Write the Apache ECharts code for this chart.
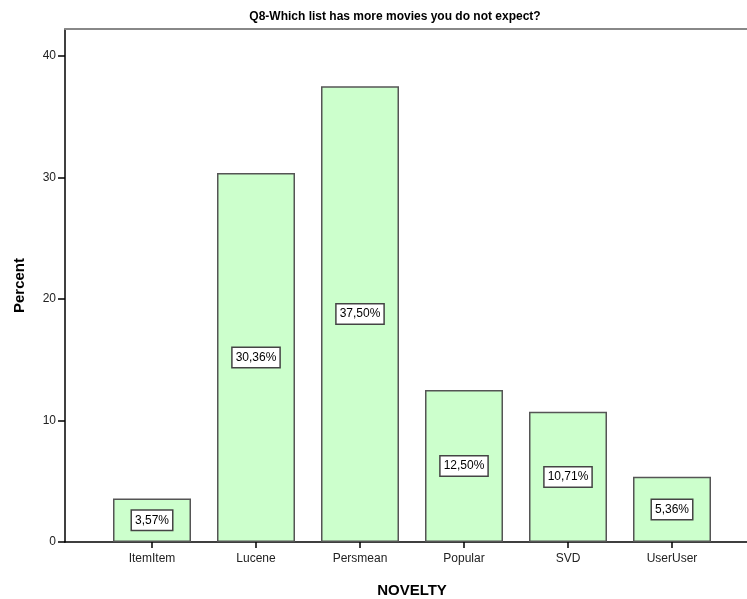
<!DOCTYPE html>
<html lang="en">
<head>
    <meta charset="UTF-8">
    <title>Q8 Novelty</title>
    <script src="https://cdn.jsdelivr.net/npm/echarts@6/dist/echarts.min.js"></script>
    <style type="text/css">
        html, body {
            margin: 0;
            padding: 0;
            background: #fff;
        }
        #chart {
            width: 747px;
            height: 599px;
        }
    </style>
</head>
<body>
<div id="chart"></div>
<script type="text/javascript">
    // categories + percentages
    var categories = ['ItemItem', 'Lucene', 'Persmean', 'Popular', 'SVD', 'UserUser'];
    var percents = [3.57, 30.36, 37.50, 12.50, 10.71, 5.36];
    var yTicks = [0, 10, 20, 30, 40];

    var font = 'Arial, "Liberation Sans", sans-serif';

    var myChart = echarts.init(document.getElementById('chart'));
    var option = {
        animation: false,
        title: {
            text: 'Q8-Which list has more movies you do not expect?',
            left: 390,
            textAlign: 'center',
            top: 6,
            textStyle: {fontFamily: font, fontSize: 12, fontWeight: 'bold', color: '#000'}
        },
        grid: [
            // bars
            {left: 100, width: 624, top: 29, bottom: 57, outerBoundsMode: 'none', containLabel: false},
            // frame lines
            {left: 65, right: 0, top: 29, bottom: 57, outerBoundsMode: 'none', containLabel: false}
        ],
        xAxis: [
            {
                type: 'category',
                gridIndex: 0,
                data: categories,
                name: 'NOVELTY',
                nameLocation: 'middle',
                nameGap: 41,
                nameTextStyle: {fontFamily: font, fontSize: 15, fontWeight: 'bold', color: '#000'},
                axisLine: {show: false},
                axisTick: {show: true, alignWithLabel: true, length: 6, lineStyle: {color: '#000', width: 1.5}},
                axisLabel: {fontFamily: font, fontSize: 12, color: '#222', margin: 11},
                splitLine: {show: false}
            },
            {
                type: 'value',
                gridIndex: 1,
                min: 0,
                max: 1,
                position: 'bottom',
                axisLine: {show: true, lineStyle: {color: '#000', width: 1.5}},
                axisTick: {show: false},
                axisLabel: {show: false},
                splitLine: {show: false}
            },
            {
                type: 'value',
                gridIndex: 1,
                min: 0,
                max: 1,
                position: 'top',
                axisLine: {show: true, lineStyle: {color: '#888', width: 2}},
                axisTick: {show: false},
                axisLabel: {show: false},
                splitLine: {show: false}
            }
        ],
        yAxis: [
            {
                type: 'value',
                gridIndex: 0,
                min: 0,
                max: 42.2,
                interval: 10,
                offset: 35,
                name: 'Percent',
                nameLocation: 'middle',
                nameRotate: 90,
                nameGap: 38,
                nameTextStyle: {fontFamily: font, fontSize: 15, fontWeight: 'bold', color: '#000'},
                axisLine: {show: true, lineStyle: {color: '#000', width: 1.5}},
                axisTick: {show: true, inside: false, length: 7, customValues: yTicks, lineStyle: {color: '#000', width: 1.5}},
                axisLabel: {fontFamily: font, fontSize: 12, color: '#222', margin: 9, customValues: yTicks},
                splitLine: {show: false}
            },
            {
                type: 'value',
                gridIndex: 1,
                min: 0,
                max: 1,
                show: false
            }
        ],
        series: [
            {
                name: 'Percent',
                type: 'bar',
                xAxisIndex: 0,
                yAxisIndex: 0,
                data: percents,
                barCategoryGap: '25%',
                itemStyle: {color: '#ccffcc', borderColor: '#555', borderWidth: 1.5},
                label: {
                    show: true,
                    position: 'inside',
                    formatter: function (p) {
                        return p.value.toFixed(2).replace('.', ',') + '%';
                    },
                    fontFamily: font,
                    fontSize: 12,
                    color: '#000',
                    backgroundColor: '#fff',
                    borderColor: '#444',
                    borderWidth: 1.5,
                    padding: [4, 3, 3, 3]
                }
            }
        ]
    };
    myChart.setOption(option);
</script>
</body>
</html>
